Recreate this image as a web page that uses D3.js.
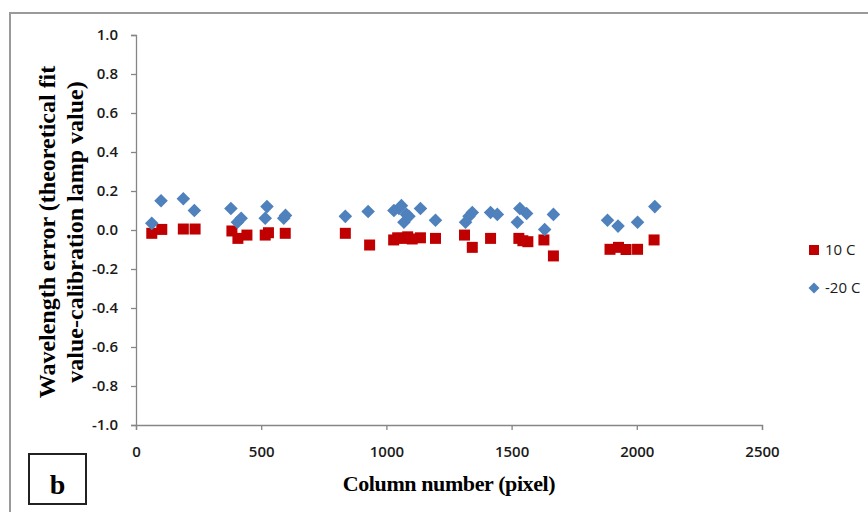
<!DOCTYPE html>
<html>
<head>
<meta charset="utf-8">
<script src="https://cdn.jsdelivr.net/npm/d3@7"></script>
<style>
  html, body { margin: 0; padding: 0; background: #fff; }
  svg { display: block; }
</style>
</head>
<body>
<svg id="chart" width="868" height="512"></svg>
<script>
// ---- data ----
const xTicks = [0, 500, 1000, 1500, 2000, 2500];
const yTicks = [-1.0, -0.8, -0.6, -0.4, -0.2, 0.0, 0.2, 0.4, 0.6, 0.8, 1.0];

const seriesNames = ["10 C", "-20 C"];

// 10 C series (red squares)
const cols10 = [63, 103, 189, 236, 383, 407, 443, 516, 529, 596, 836, 933, 1029, 1045, 1063, 1085, 1103, 1136, 1196,
                1312, 1343, 1416, 1529, 1545, 1565, 1629, 1667, 1893, 1927, 1957, 2003, 2069];
const vals10 = [-0.017, 0.003, 0.005, 0.005, -0.005, -0.043, -0.026, -0.026, -0.014, -0.017, -0.017, -0.077, -0.051, -0.04, -0.043, -0.035, -0.046, -0.04, -0.043,
                -0.026, -0.089, -0.043, -0.043, -0.055, -0.06, -0.051, -0.133, -0.099, -0.089, -0.10, -0.099, -0.051];

// -20 C series (blue diamonds)
const colsM20 = [63, 100, 189, 233, 379, 405, 420, 516, 523, 590, 597, 836, 927, 1030, 1050, 1060, 1070, 1080, 1090, 1136, 1196,
                 1316, 1330, 1343, 1416, 1443, 1523, 1533, 1560, 1632, 1667, 1883, 1925, 2003, 2072];
const valsM20 = [0.034, 0.15, 0.16, 0.10, 0.11, 0.04, 0.06, 0.06, 0.12, 0.06, 0.075, 0.07, 0.095, 0.10, 0.11, 0.125, 0.04, 0.08, 0.07, 0.11, 0.05,
                 0.04, 0.07, 0.09, 0.09, 0.08, 0.04, 0.11, 0.085, 0.003, 0.08, 0.05, 0.02, 0.04, 0.12];

const xTitle = "Column number (pixel)";
const yTitleLines = ["Wavelength error (theoretical fit", "value-calibration lamp value)"];
const panelLabel = "b";

// ---- drawing ----
const svg = d3.select("#chart");
const red = "#C00000", blue = "#4F81BD", axisCol = "#868686";

// outer frame (top & left visible)
svg.append("rect").attr("x", 10).attr("y", 13).attr("width", 900).attr("height", 600)
  .attr("fill", "none").attr("stroke", "#9a9a9a").attr("stroke-width", 2);

const x = d3.scaleLinear().domain([0, 2500]).range([136, 762]);
const y = d3.scaleLinear().domain([-1, 1]).range([425, 35]);

const tickFont = "'Open Sans', sans-serif";

const gx = svg.append("g").attr("transform", `translate(0,${y(-1)})`)
  .call(d3.axisBottom(x).tickValues(xTicks).tickSize(5).tickPadding(16).tickFormat(d => String(d)));
const gy = svg.append("g").attr("transform", `translate(${x(0)},0)`)
  .call(d3.axisLeft(y).tickValues(yTicks).tickSize(5).tickPadding(13).tickFormat(d => d.toFixed(1)));

[gx, gy].forEach(g => {
  g.select(".domain").attr("stroke", axisCol).attr("stroke-width", 1.3);
  g.selectAll(".tick line").attr("stroke", axisCol).attr("stroke-width", 1.3);
  g.selectAll(".tick text").attr("fill", "#1a1a1a").style("font-family", tickFont)
    .style("font-size", "15px").style("font-weight", 600);
});

// markers
const sq = d3.symbol().type(d3.symbolSquare).size(121);
const dm = d3.symbol().type(d3.symbolSquare).size(92);

const d10 = cols10.map((c, i) => ({c, v: vals10[i]}));
const dM20 = colsM20.map((c, i) => ({c, v: valsM20[i]}));

svg.append("g").selectAll("path").data(d10).join("path")
  .attr("d", sq).attr("fill", red)
  .attr("transform", d => `translate(${x(d.c)},${y(d.v)})`);

svg.append("g").selectAll("path").data(dM20).join("path")
  .attr("d", dm).attr("fill", blue)
  .attr("transform", d => `translate(${x(d.c)},${y(d.v)}) rotate(45)`);

// axis titles
svg.append("text").attr("x", 449).attr("y", 491).attr("text-anchor", "middle")
  .style("font-family", "'Liberation Serif', 'Times New Roman', serif")
  .style("font-weight", "bold").style("font-size", "22px").style("letter-spacing", "-0.4px")
  .text(xTitle);

const yt = svg.append("text").attr("transform", "translate(0,232) rotate(-90)")
  .attr("text-anchor", "middle")
  .style("font-family", "'Liberation Serif', 'Times New Roman', serif")
  .style("font-weight", "bold").style("font-size", "24px");
yt.selectAll("tspan").data(yTitleLines).join("tspan")
  .attr("x", 0).attr("y", (d, i) => 55 + i * 28).text(d => d);

// legend
const lg = svg.append("g").style("font-family", tickFont).style("font-size", "15px");
const legendItems = [
  {name: seriesNames[0], color: red, shape: "sq", ly: 250},
  {name: seriesNames[1], color: blue, shape: "dm", ly: 288}
];
legendItems.forEach(it => {
  lg.append("path").attr("d", it.shape === "sq" ? d3.symbol().type(d3.symbolSquare).size(100)() : d3.symbol().type(d3.symbolSquare).size(60)())
    .attr("fill", it.color)
    .attr("transform", `translate(814,${it.ly})` + (it.shape === "dm" ? " rotate(45)" : ""));
  lg.append("text").attr("x", 825).attr("y", it.ly).attr("dy", "0.35em").attr("fill", "#1a1a1a").text(it.name);
});

// panel label box
svg.append("rect").attr("x", 29).attr("y", 454).attr("width", 57).attr("height", 50)
  .attr("fill", "#fff").attr("stroke", "#222").attr("stroke-width", 2);
svg.append("text").attr("x", 57.5).attr("y", 494).attr("text-anchor", "middle")
  .style("font-family", "'Liberation Serif', 'Times New Roman', serif")
  .style("font-weight", "bold").style("font-size", "28px").text(panelLabel);
</script>
</body>
</html>
